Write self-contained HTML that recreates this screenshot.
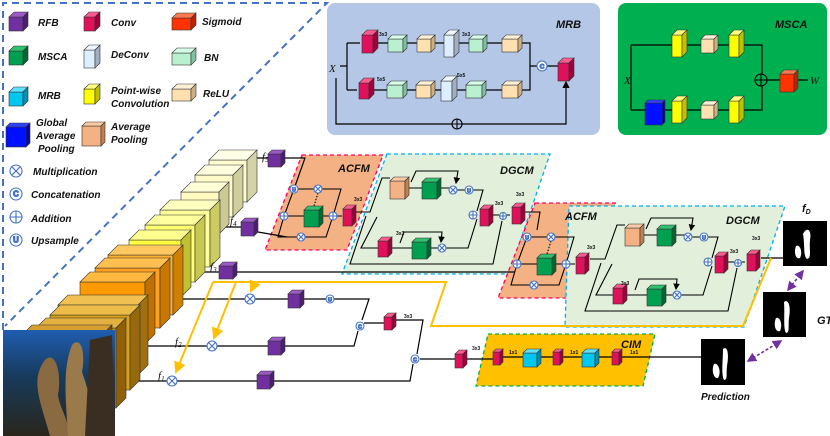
<!DOCTYPE html>
<html><head><meta charset="utf-8"><style>
html,body{margin:0;padding:0;background:#fff;}
svg{display:block;}
text{font-family:"Liberation Sans",sans-serif;font-weight:bold;font-style:italic;fill:#111;}
.s{font-size:5px;font-style:normal;font-weight:bold;}
.l{font-size:10px;}
.f{font-family:"Liberation Serif",serif;font-size:11px;font-weight:normal;}
</style></head><body>
<svg id="svg" width="830" height="436" viewBox="0 0 830 436" xmlns="http://www.w3.org/2000/svg">
<defs>
<linearGradient id="photo" x1="0" y1="0" x2="0" y2="1"><stop offset="0" stop-color="#1f5db0"/><stop offset="0.45" stop-color="#173a5a"/><stop offset="1" stop-color="#2a261c"/></linearGradient>
<marker id="ar" markerWidth="6" markerHeight="6" refX="5" refY="3" orient="auto"><path d="M0,0 L6,3 L0,6 z" fill="#000"/></marker>
<marker id="ao" markerWidth="6" markerHeight="6" refX="5" refY="3" orient="auto"><path d="M0,0 L6,3 L0,6 z" fill="#ffc000"/></marker>
<marker id="ap" markerWidth="6" markerHeight="6" refX="5" refY="3" orient="auto"><path d="M0,0 L6,3 L0,6 z" fill="#7030a0"/></marker>
<marker id="aps" markerWidth="6" markerHeight="6" refX="1" refY="3" orient="auto"><path d="M6,0 L0,3 L6,6 z" fill="#7030a0"/></marker>
</defs>

<!-- legend dashed frame -->
<path d="M3,330 L3,3 L327,3 L5,326" fill="none" stroke="#4472c4" stroke-width="2" stroke-dasharray="7,5"/>

<!-- MRB box -->
<rect x="327" y="3" width="273" height="132" rx="8" fill="#b4c7e7"/>
<!-- MSCA box -->
<rect x="618" y="3" width="209" height="132" rx="8" fill="#00b050"/>

<!-- ACFM / DGCM backgrounds -->
<g id="bg1">
<polygon points="302,155 383,155 347,250 265,250" fill="#f4b183" stroke="#ff0066" stroke-width="1.3" stroke-dasharray="4,3"/>
<polygon points="387,154 550,154 509,274 342,274" fill="#e2efda" stroke="#00b0f0" stroke-width="1.3" stroke-dasharray="4,3"/>
</g>
<g transform="translate(233,48)">
<polygon points="302,155 383,155 347,250 265,250" fill="#f4b183" stroke="#ff0066" stroke-width="1.3" stroke-dasharray="4,3"/>
<polygon points="336,158 552,158 511,279 332,279" fill="#e2efda" stroke="#00b0f0" stroke-width="1.3" stroke-dasharray="4,3"/>
</g>
<!-- CIM -->
<polygon points="488,334 655,334 643,386 476,386" fill="#ffc000" stroke="#00b050" stroke-width="1.3" stroke-dasharray="4,3"/>

<!-- connection lines -->
<g fill="none" stroke="#000" stroke-width="1.2" id="lines">
<!-- MRB -->
<path d="M340,66 L347,66 M347,43 L347,90 M347,43 L360,43 M347,90 L357,90"/>
<path d="M378,43 L388,43 M407,43 L417,43 M435,43 L444,43 M459,43 L469,43 M487,43 L502,43 M522,43 L530,43 L530,90 L522,90"/>
<path d="M374,90 L387,90 M407,90 L416,90 M435,90 L441,90 M457,90 L466,90 M486,90 L502,90 M530,66 L537,66 M547,66 L558,66"/>
<path d="M336,78 L336,124 L452,124 M462,124 L566,124 L566,82" marker-end="url(#ar)"/>
<!-- MSCA -->
<path d="M631,45 L631,110 M631,45 L672,45 M687,45 L701,45 M718,45 L729,45 M743,45 L762,45 L762,74 M631,110 L645,110 M665,110 L672,110 M687,110 L701,110 M718,110 L729,110 M743,110 L762,110 L762,86 M766,80 L780,80 M798,80 L808,80"/>
<!-- f lines -->
<path d="M250,158 L268,158 M285,158 L305,158 L294,189"/>
<path d="M210,227 L241,227 M258,232 L287,237"/>
<path d="M176,272 L219,272 M237,272 L515,272"/>
<path d="M176,299 L245,299 M255,299 L288,299 M300,299 L326,299 M334,299 L369,299 L362,320"/>
<path d="M140,346 L207,346 M217,346 L268,346 M285,346 L354,346 L358,331"/>
<path d="M128,381 L167,381 M177,381 L257,381 M274,381 L410,381 L413,364"/>
<path d="M364,323 L384,323 M395,320 L423,320 L417,354"/>
<path d="M420,359 L455,359 M465,359 L493,359 M500,357 L523,357 M540,357 L553,357 M560,357 L582,357 M598,357 L612,357 M620,357 L701,357"/>
<path d="M761,258 L783,258"/>
</g>

<g id="acfmlines" fill="none" stroke="#000" stroke-width="1.1">
<path d="M294,189 L318,189 L341,189 L333,216 M294,189 L284,216 L278,237 L326,237 L333,216 M284,216 L304,216 M322,216 L333,216 M337,216 L342,216"/>
<path d="M318,193 L314,206" stroke-dasharray="1.5,1.5"/>
<!-- DGCM1 -->
<path d="M355,212 L370,212 L382,178 L390,178 M408,188 L422,188 M440,188 L449,188 M457,190 L465,190 M473,190 L483,190 L477,211 M377,217 L361,248 L378,248 M392,248 L412,248 M430,248 L438,248 M446,248 L468,248 L477,219 M491,215 L499,215 M507,215 L510,215 M366,216 L350,264 L493,264 L502,221"/>
<path d="M411,182 L416,171 L458,171 L456,183" marker-end="url(#ar)"/>
<path d="M400,243 L404,232 L442,232 L441,242" marker-end="url(#ar)"/>
<path d="M524,212 L540,212 L537,230"/>
</g>
<g transform="translate(233,48)" fill="none" stroke="#000" stroke-width="1.1">
<path d="M294,189 L318,189 L341,189 L333,216 M294,189 L284,216 L278,237 L326,237 L333,216 M284,216 L304,216 M322,216 L333,216 M337,216 L342,216"/>
<path d="M318,193 L314,206" stroke-dasharray="1.5,1.5"/>
</g>
<g transform="translate(235,47)" fill="none" stroke="#000" stroke-width="1.1">
<path d="M355,212 L370,212 L382,178 L390,178 M408,188 L422,188 M440,188 L449,188 M457,190 L465,190 M473,190 L483,190 L477,211 M377,217 L361,248 L378,248 M392,248 L412,248 M430,248 L438,248 M446,248 L468,248 L477,219 M491,215 L499,215 M507,215 L510,215 M366,216 L350,264 L493,264 L502,221"/>
<path d="M411,182 L416,171 L458,171 L456,183" marker-end="url(#ar)"/>
<path d="M400,243 L404,232 L442,232 L441,242" marker-end="url(#ar)"/>
</g>

<!-- orange feedback -->
<g fill="none" stroke="#ffc000" stroke-width="2">
<path d="M213,282 L446,282 L431,326 L743,326 L771,258"/>
<path d="M255,282 L251,291" marker-end="url(#ao)"/>
<path d="M236,282 L214,338" marker-end="url(#ao)"/>
<path d="M213,282 L176,372" marker-end="url(#ao)"/>
</g>

<!-- backbone slabs -->
<g id="slabs"></g>
<!-- photo -->
<rect x="3" y="330" width="112" height="106" fill="url(#photo)"/>
<path d="M50,436 C40,400 30,380 45,360 C55,350 62,372 58,395 C60,410 70,420 68,436 Z" fill="#8a6a40"/>
<path d="M68,436 C66,400 62,370 72,345 C80,336 86,350 82,372 C90,395 95,415 92,436 Z" fill="#9a7a4a"/>
<path d="M85,436 L90,340 L112,335 L115,436 Z" fill="#3a2e22"/>

<!-- cubes container -->
<g id="cubes"></g>

<!-- circles -->
<g id="circ" fill="#fff" stroke="#4472c4" stroke-width="1.1"></g>

<!-- masks -->
<g>
<rect x="783" y="221" width="44" height="45" fill="#000"/>
<path d="M803,234 C807,226 812,230 810,240 C809,250 812,258 807,259 C803,256 805,245 803,234 Z M796,246 C800,244 803,252 800,258 C797,260 793,254 796,246 Z" fill="#fff"/>
<rect x="763" y="292" width="43" height="45" fill="#000"/>
<path d="M784,302 C789,298 791,308 789,318 C788,326 790,333 786,333 C783,328 785,315 784,302 Z M776,318 C780,316 783,325 780,331 C776,333 773,325 776,318 Z" fill="#fff"/>
<rect x="701" y="339" width="44" height="46" fill="#000"/>
<path d="M723,349 C728,345 729,356 727,366 C726,374 728,380 724,380 C721,374 723,360 723,349 Z M714,364 C718,362 722,372 718,378 C714,379 711,371 714,364 Z" fill="#fff"/>
</g>
<g fill="none" stroke="#7030a0" stroke-width="1.6" stroke-dasharray="3,2">
<path d="M803,271 L788,290" marker-end="url(#ap)" marker-start="url(#aps)"/>
<path d="M781,341 L748,361" marker-end="url(#ap)" marker-start="url(#aps)"/>
</g>

<!-- legend text -->
<text class="l" x="38" y="26">RFB</text>
<text class="l" x="111" y="26">Conv</text>
<text class="l" x="202" y="25">Sigmoid</text>
<text class="l" x="38" y="60">MSCA</text>
<text class="l" x="111" y="58">DeConv</text>
<text class="l" x="204" y="61">BN</text>
<text class="l" x="38" y="99">MRB</text>
<text class="l" x="111" y="94">Point-wise</text>
<text class="l" x="111" y="107">Convolution</text>
<text class="l" x="203" y="97">ReLU</text>
<text class="l" x="36" y="126">Global</text>
<text class="l" x="36" y="139">Average</text>
<text class="l" x="38" y="152">Pooling</text>
<text class="l" x="111" y="130">Average</text>
<text class="l" x="111" y="143">Pooling</text>
<text class="l" x="33" y="175">Multiplication</text>
<text class="l" x="31" y="198">Concatenation</text>
<text class="l" x="31" y="222">Addition</text>
<text class="l" x="31" y="244">Upsample</text>

<text class="l" x="556" y="28" style="font-size:11px">MRB</text>
<text class="l" x="775" y="28" style="font-size:11px">MSCA</text>
<text class="f" x="329" y="72" font-style="italic">X</text>
<text class="f" x="624" y="84" font-style="italic">X</text>
<text class="f" x="810" y="84" font-style="italic">W</text>
<text class="s" x="379" y="36">3x3</text>
<text class="s" x="462" y="36">3x3</text>
<text class="s" x="377" y="81">5x5</text>
<text class="s" x="457" y="77">5x5</text>

<text class="l" x="338" y="172" style="font-size:11px">ACFM</text>
<text class="l" x="500" y="174" style="font-size:11px">DGCM</text>
<text class="l" x="565" y="220" style="font-size:11px">ACFM</text>
<text class="l" x="726" y="224" style="font-size:11px">DGCM</text>
<text class="l" x="621" y="348" style="font-size:11px">CIM</text>
<text class="s" x="354" y="201">3x3</text>
<text class="s" x="495" y="205">3x3</text>
<text class="s" x="516" y="196">3x3</text>
<text class="s" x="396" y="235">3x3</text>
<text class="s" x="587" y="249">3x3</text>
<text class="s" x="730" y="253">3x3</text>
<text class="s" x="752" y="240">3x3</text>
<text class="s" x="621" y="285">3x3</text>
<text class="s" x="404" y="318">3x3</text>
<text class="s" x="472" y="350">3x3</text>
<text class="s" x="509" y="354">1x1</text>
<text class="s" x="570" y="354">1x1</text>
<text class="s" x="630" y="354">1x1</text>

<text class="f" x="262" y="160" font-style="italic">f<tspan font-size="7" dy="2">5</tspan></text>
<text class="f" x="230" y="224" font-style="italic">f<tspan font-size="7" dy="2">4</tspan></text>
<text class="f" x="210" y="270" font-style="italic">f<tspan font-size="7" dy="2">3</tspan></text>
<text class="f" x="175" y="345" font-style="italic">f<tspan font-size="7" dy="2">2</tspan></text>
<text class="f" x="158" y="379" font-style="italic">f<tspan font-size="7" dy="2">1</tspan></text>
<text class="l" x="802" y="212" style="font-size:11px">f<tspan font-size="7" dy="2">D</tspan></text>
<text class="l" x="817" y="324" style="font-size:11px">GT</text>
<text class="l" x="701" y="400">Prediction</text>
</svg>
<script>
var NS="http://www.w3.org/2000/svg";
function el(p,t,a){var e=document.createElementNS(NS,t);for(var k in a)e.setAttribute(k,a[k]);p.appendChild(e);return e;}
function cube(g,x,y,w,h,c,top,side,d){
 d=d||Math.max(3,Math.round(w*0.35));
 var st={stroke:"#333","stroke-width":"0.6"};
 el(g,"rect",Object.assign({x:x,y:y+d,width:w,height:h,fill:c},st));
 el(g,"polygon",Object.assign({points:[x,y+d,x+d,y,x+w+d,y,x+w,y+d].join(","),fill:top},st));
 el(g,"polygon",Object.assign({points:[x+w,y+d,x+w+d,y,x+w+d,y+h,x+w,y+d+h].join(","),fill:side},st));
}
var C={
 rfb:["#7030a0","#9b59c6","#4b1f70"],
 conv:["#e0105a","#ff5a90","#a0003a"],
 sig:["#ff3300","#ff7a50","#c02000"],
 msca:["#00a050","#30c070","#006830"],
 dec:["#ddeeff","#f0f8ff","#9fb0c0"],
 bn:["#b8f0d0","#d8fbe8","#80c0a0"],
 mrb:["#00c8f0","#60e0ff","#0090b0"],
 pw:["#ffff00","#ffff80","#c0c000"],
 relu:["#ffe0b0","#fff0d8","#d0b080"],
 gap:["#0010ff","#3040ff","#0008a0"],
 avg:["#f4b183","#f8caa6","#c08050"]
};
function cb(t,x,y,w,h,d){var k=C[t];cube(document.getElementById("cubes"),x,y,w,h,k[0],k[1],k[2],d);}
// slabs
var sl=document.getElementById("slabs");
var S=[[209,150,38,42,"#fffcd0","#ffffe8","#d4d2a8"],[195,165,38,42,"#fffbc8","#ffffe0","#d0ce9c"],[181,182,38,42,"#fffac0","#ffffd8","#ccca94"],
[160,200,50,57,"#ffff99","#ffffc0","#cccc60"],[145,215,50,57,"#ffff70","#ffffa0","#c8c850"],[129,230,52,57,"#ffff40","#ffff90","#c0c030"],
[108,245,65,60,"#ffb030","#ffc860","#d08000"],[95,258,65,60,"#ffa020","#ffc050","#c87800"],[80,272,65,62,"#ff9900","#ffb840","#c07000"],
[58,295,80,70,"#e0a820","#f0c050","#a07010"],[50,305,80,75,"#d8a018","#ecbc48","#98680c"],[36,318,80,80,"#cc9410","#e4b040","#906008"],[22,325,80,95,"#b88010","#d8a030","#805008"]];
S.forEach(function(s){cube(sl,s[0],s[1],s[2],s[3],s[4],s[5],s[6],10);});
// legend
cb("rfb",9,12,14,14,5);cb("conv",84,12,11,14,5);cb("sig",172,13,19,12,5);
cb("msca",9,46,14,14,5);cb("dec",84,45,11,18,5);cb("bn",172,48,19,12,5);
cb("mrb",9,87,14,14,5);cb("pw",84,84,11,15,5);cb("relu",172,84,19,12,5);
cb("gap",6,123,20,20,4);cb("avg",82,122,19,20,4);
// MRB
cb("conv",362,30,11,18,5);cb("bn",388,35,15,13,4);cb("relu",417,35,14,13,4);cb("dec",444,30,10,22,5);cb("bn",469,35,14,13,4);cb("relu",502,35,16,13,4);
cb("conv",359,78,10,16,5);cb("bn",387,81,16,13,4);cb("relu",416,81,15,13,4);cb("dec",441,76,11,20,5);cb("bn",466,81,16,13,4);cb("relu",502,81,16,13,4);
cb("conv",558,58,11,18,5);
// MSCA
cb("pw",672,30,10,22,5);cb("relu",701,35,13,14,4);cb("pw",729,30,10,22,5);
cb("gap",645,100,17,22,3);cb("pw",672,96,10,22,5);cb("relu",701,101,13,14,4);cb("pw",729,96,10,22,5);
cb("sig",780,70,14,18,4);
// features
cb("rfb",268,150,13,13,4);cb("rfb",241,218,13,14,4);cb("rfb",219,262,14,13,4);
cb("rfb",288,290,12,14,4);cb("rfb",268,337,13,14,4);cb("rfb",257,371,13,14,4);
cb("conv",384,313,8,13,4);cb("conv",455,350,8,14,4);
// CIM
cb("conv",493,349,7,13,3);cb("mrb",523,349,14,14,4);cb("conv",553,349,7,13,3);cb("mrb",582,349,13,14,4);cb("conv",612,349,7,13,3);
// ACFM/DGCM
[[0,0],[233,48]].forEach(function(o){cb("msca",304+o[0],206+o[1],15,17,4);cb("conv",343+o[0],205+o[1],9,17,4);});
[[0,0],[235,47]].forEach(function(o){var a=o[0],b=o[1];
 cb("avg",390+a,177+b,15,18,4);cb("msca",422+a,178+b,15,17,4);cb("conv",480+a,205+b,9,17,4);cb("conv",512+a,203+b,9,17,4);
 cb("conv",378+a,237+b,10,16,4);cb("msca",412+a,238+b,15,17,4);});
// circles
var cg=document.getElementById("circ");
function circ(x,y,t,r){r=r||5;el(cg,"circle",{cx:x,cy:y,r:r});
 if(t=="x"){var d=r*0.7;el(cg,"path",{d:"M"+(x-d)+","+(y-d)+"L"+(x+d)+","+(y+d)+"M"+(x+d)+","+(y-d)+"L"+(x-d)+","+(y+d)});}
 else if(t=="+"){el(cg,"path",{d:"M"+(x-r)+","+y+"L"+(x+r)+","+y+"M"+x+","+(y-r)+"L"+x+","+(y+r)});}
 else{var tx=el(cg,"text",{x:x,y:y+2.3,"text-anchor":"middle",style:"font-size:"+(r*1.3)+"px;fill:#4472c4;font-style:normal"});tx.textContent=t;}}
circ(16,171,"x",6);circ(16,194,"C",6);circ(16,217,"+",6);circ(16,240,"U",6);
circ(542,66,"C",5);
el(cg,"circle",{cx:457,cy:124,r:5,stroke:"#000",fill:"none"});el(cg,"path",{d:"M452,124L462,124M457,119L457,129",stroke:"#000"});
el(cg,"circle",{cx:761,cy:80,r:6,stroke:"#000",fill:"none"});el(cg,"path",{d:"M755,80L767,80M761,74L761,86",stroke:"#000"});
[[0,0],[233,48]].forEach(function(o){var a=o[0],b=o[1];circ(294+a,189+b,"U",4);circ(318+a,189+b,"x",4);circ(284+a,216+b,"+",4);circ(333+a,216+b,"+",4);circ(301+a,237+b,"x",4);});
[[0,0],[235,47]].forEach(function(o){var a=o[0],b=o[1];circ(453+a,190+b,"x",4);circ(469+a,190+b,"U",4);circ(473+a,215+b,"+",4);circ(503+a,216+b,"+",3.5);circ(442+a,248+b,"x",4);});
circ(250,299,"x",5);circ(330,299,"U",4);circ(212,346,"x",5);circ(172,381,"x",5);circ(360,326,"C",4);circ(415,359,"C",4);
</script>
</body></html>
